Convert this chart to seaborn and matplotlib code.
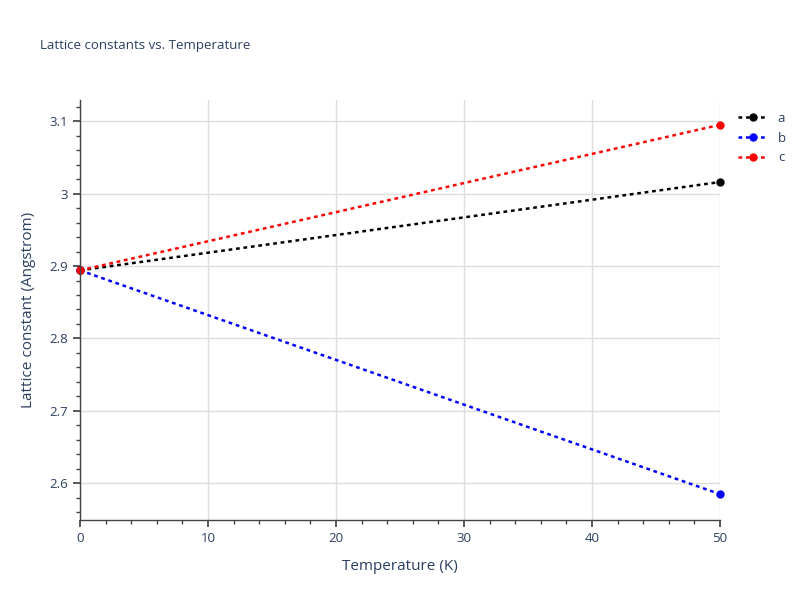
import matplotlib
matplotlib.use("Agg")
import matplotlib.pyplot as plt
import pandas as pd
import seaborn as sns
from matplotlib.ticker import MultipleLocator, FuncFormatter

sns.set_theme(style="white")
plt.rcParams["font.family"] = ["Open Sans", "DejaVu Sans"]

temperature = [0, 50]
lattice_a = [2.894, 3.016]
lattice_b = [2.894, 2.585]
lattice_c = [2.894, 3.095]
series_names = ["a", "b", "c"]
series_colors = ["black", "blue", "red"]

df = pd.DataFrame({
    "Temperature": temperature * 3,
    "value": lattice_a + lattice_b + lattice_c,
    "series": [n for n in series_names for _ in temperature],
})

fig = plt.figure(figsize=(8, 6), dpi=100)
ax = fig.add_axes([0.1, 0.133, 0.8, 0.7])
text_color = "#2a3f5f"

for name, color in zip(series_names, series_colors):
    sub = df[df["series"] == name]
    sns.lineplot(data=sub, x="Temperature", y="value", ax=ax, color=color,
                 linestyle=(0, (1.5, 1.5)), linewidth=1.8, marker="o",
                 markersize=6, markeredgewidth=0, label=name, clip_on=False)

ax.set_xlim(0, 50)
ax.set_ylim(2.549, 3.129)
ax.xaxis.set_major_locator(MultipleLocator(10))
ax.xaxis.set_minor_locator(MultipleLocator(2))
ax.yaxis.set_major_locator(MultipleLocator(0.1))
ax.yaxis.set_minor_locator(MultipleLocator(0.02))
ax.yaxis.set_major_formatter(FuncFormatter(lambda v, p: f"{v:g}"))
ax.grid(True, which="major", color="#dddddd", linewidth=1)
ax.set_axisbelow(True)
for s in ["top", "right"]:
    ax.spines[s].set_visible(False)
for s in ["left", "bottom"]:
    ax.spines[s].set_color("#444444")
    ax.spines[s].set_linewidth(1)
ax.tick_params(which="major", direction="out", length=5, color="#444444",
               labelsize=9.5, labelcolor=text_color, left=True, bottom=True)
ax.tick_params(which="minor", direction="out", length=3, color="#444444",
               left=True, bottom=True)

ax.set_xlabel("Temperature (K)", fontsize=11, color=text_color, labelpad=10)
ax.set_ylabel("Lattice constant (Angstrom)", fontsize=11, color=text_color, labelpad=10)
fig.text(0.05, 0.918, "Lattice constants vs. Temperature", fontsize=9.5, color=text_color)

leg = ax.legend(loc="upper left", bbox_to_anchor=(1.01, 1.0), frameon=False,
                fontsize=9.5, handlelength=2.2, labelspacing=0.5)
for t in leg.get_texts():
    t.set_color(text_color)

fig.savefig("out.png", dpi=100)
